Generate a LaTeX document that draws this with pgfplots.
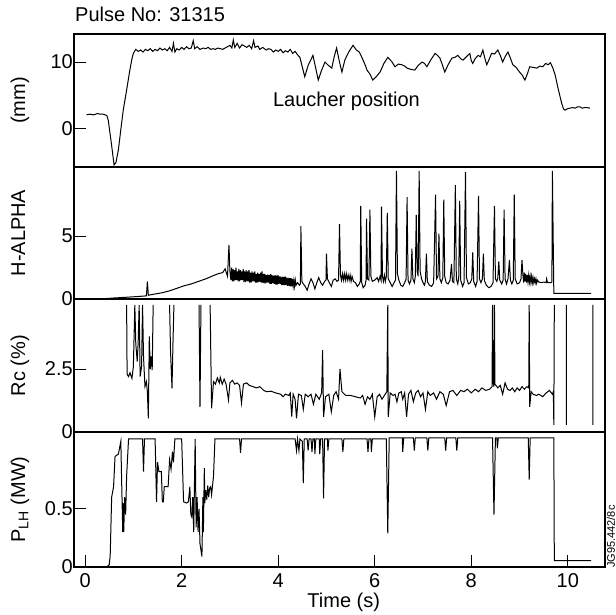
\documentclass[border=0pt]{standalone}
\usepackage{pgfplots}
\pgfplotsset{compat=1.18}
\usepackage{fontspec}
\setmainfont{Liberation Sans}
\begin{document}
\begin{tikzpicture}[x=1pt,y=1pt]
\useasboundingbox (0,0) rectangle (616,-615);
\pgfplotsset{
  panel/.style={
    scale only axis, width=531pt,
    xmin=-0.23, xmax=10.77,
    axis line style={line width=1.1pt},
    tick style={line width=1pt, black},
    tick align=inside, major tick length=12pt,
    ytick pos=left, xtick pos=bottom,
    font=\fontsize{20}{24}\selectfont,
    /pgf/number format/assume math mode=true,
    yticklabel style={inner sep=1pt},
    xticklabel style={yshift=-3pt},
    ylabel style={at={(axis description cs:-0.092,0.5)}, anchor=base, rotate=0},
    cycle list={{black, line width=1pt, mark=none}},
    unbounded coords=jump,
  }
}
% ---------- Panel 1: launcher position ----------
\begin{axis}[panel, at={(74pt,-34pt)}, anchor=north west, height=133pt,
  ymin=-5.7, ymax=14.2, ytick={0,10}, xtick=\empty,
  ylabel={(mm)},
  title={Pulse No: 31315},
  title style={at={(axis description cs:0,1)}, anchor=base west, yshift=6pt, inner sep=0pt, xshift=1pt}]
\addplot[black, line width=1pt, mark=none] coordinates {
(0.03,2.1)(0.10,2.2)(0.18,2.1)(0.25,2.3)(0.32,2.2)(0.38,2.2)(0.45,2.0)(0.48,1.3)
(0.55,-2.5)(0.60,-5.4)(0.64,-5.0)(0.69,-3.1)(0.75,0.5)(0.79,2.8)(0.86,5.8)(0.92,8.5)(0.97,10.5)
(1.00,11.3)(1.05,11.9)(1.10,11.6)(1.15,11.8)(1.20,11.5)(1.25,11.9)(1.30,11.7)(1.35,12.0)
(1.40,11.6)(1.45,11.9)(1.50,11.7)(1.55,12.1)(1.60,11.8)(1.65,12.0)(1.70,11.7)(1.75,12.2)
(1.80,11.6)(1.83,12.8)(1.86,11.5)(1.90,12.0)(1.95,11.8)(2.00,12.2)(2.05,11.9)(2.10,12.3)
(2.15,12.0)(2.20,12.1)(2.24,13.2)(2.27,12.0)(2.32,12.3)(2.38,11.9)(2.45,12.1)(2.50,12.0)
(2.55,12.2)(2.60,11.9)(2.65,12.0)(2.70,11.9)(2.75,12.1)(2.80,12.0)(2.85,11.9)(2.90,12.1)
(2.95,12.3)(3.00,12.5)(3.04,12.1)(3.07,13.3)(3.10,12.2)(3.15,12.8)(3.20,12.1)(3.25,12.6)
(3.30,12.4)(3.35,12.2)(3.40,12.5)(3.45,12.0)(3.49,13.2)(3.52,12.2)(3.58,12.4)(3.62,11.9)
(3.68,12.2)(3.75,11.8)(3.80,12.0)(3.85,11.9)(3.90,11.5)(3.95,11.8)(4.00,11.6)(4.05,11.9)
(4.10,11.4)(4.15,11.7)(4.20,11.5)(4.25,11.9)(4.30,11.3)(4.35,11.6)(4.40,11.1)(4.45,10.7)
(4.55,7.8)(4.62,9.5)(4.72,11.0)(4.78,9.0)(4.83,7.3)(4.90,8.8)(4.97,10.0)(5.04,9.5)
(5.11,9.1)(5.16,10.8)(5.21,12.1)(5.27,10.0)(5.32,8.5)(5.38,10.3)(5.46,11.5)(5.55,12.5)
(5.62,11.8)(5.68,11.5)(5.74,10.6)(5.80,9.6)(5.84,8.8)(5.90,8.2)(5.96,7.3)(6.03,7.8)
(6.11,8.5)(6.19,9.8)(6.27,10.7)(6.35,10.1)(6.42,9.3)(6.49,9.7)(6.56,9.6)(6.62,9.4)
(6.67,9.1)(6.75,8.9)(6.83,8.8)(6.90,9.5)(6.98,10.0)(7.03,9.8)(7.08,9.3)(7.15,10.2)
(7.25,11.3)(7.30,11.0)(7.35,10.6)(7.40,9.6)(7.45,8.5)(7.52,9.6)(7.60,10.6)(7.66,10.7)
(7.72,11.0)(7.78,10.5)(7.83,10.3)(7.90,10.8)(7.97,11.3)(8.00,10.2)(8.03,9.8)(8.08,10.5)
(8.14,11.0)(8.19,10.8)(8.24,11.8)(8.28,10.6)(8.32,9.6)(8.37,10.4)(8.42,11.3)(8.48,11.2)
(8.55,11.8)(8.60,11.0)(8.65,10.0)(8.70,10.8)(8.76,11.5)(8.81,10.6)(8.86,9.6)(8.93,9.2)
(9.00,8.5)(9.06,8.0)(9.11,7.3)(9.16,8.2)(9.21,9.3)(9.28,9.2)(9.36,9.1)(9.42,9.4)
(9.48,9.3)(9.54,9.8)(9.59,9.6)(9.64,9.9)(9.69,9.1)(9.74,8.0)(9.79,6.3)(9.84,4.8)
(9.87,3.9)(9.91,3.0)(9.94,2.8)(9.99,3.0)(10.04,3.1)(10.10,3.2)(10.15,3.1)(10.20,3.3)
(10.25,3.3)(10.30,3.1)(10.35,3.2)(10.40,3.2)(10.46,3.1)
};
\node[anchor=base west, inner sep=0pt] at (axis cs:3.89,3.36) {Laucher position};
\end{axis}
% ---------- Panel 2: H-alpha ----------
\begin{axis}[panel, at={(74pt,-167pt)}, anchor=north west, height=132pt,
  ymin=0, ymax=10.5, ytick={0,5}, xtick=\empty,
  ylabel={H-ALPHA}]
\addplot[black, line width=1pt, mark=none] coordinates {
(0.38,0.02)(0.6,0.08)(0.9,0.15)(1.1,0.2)(1.27,0.25)(1.29,1.4)(1.31,0.3)(1.45,0.4)
(1.6,0.5)(1.75,0.65)(1.9,0.85)(2.05,1.05)(2.2,1.2)(2.35,1.4)(2.5,1.6)(2.65,1.85)
(2.75,2.0)(2.85,2.1)(2.9,2.4)(2.95,1.8)(2.98,4.3)(3.0,2.2)
(3.02,1.5)(3.035,2.5)(3.05,1.4)(3.065,2.4)(3.08,1.4)(3.095,2.3)(3.11,1.5)(3.125,2.5)(3.14,1.5)(3.155,2.2)(3.17,1.4)(3.185,2.4)(3.20,1.4)(3.215,2.3)(3.23,1.5)
(3.245,2.2)(3.26,1.5)(3.275,2.4)(3.29,1.35)(3.305,2.2)(3.32,1.35)(3.335,2.3)(3.35,1.4)(3.365,2.2)(3.38,1.4)(3.395,2.3)(3.41,1.3)(3.425,2.1)(3.44,1.3)(3.455,2.2)(3.47,1.4)
(3.485,2.1)(3.50,1.4)(3.515,2.2)(3.53,1.3)(3.545,2.0)(3.56,1.3)(3.575,2.1)(3.59,1.35)(3.605,2.0)(3.62,1.35)(3.635,2.1)(3.65,1.3)(3.665,2.2)(3.68,1.3)(3.695,2.0)(3.71,1.25)
(3.725,2.0)(3.74,1.25)(3.755,1.9)(3.77,1.3)(3.785,1.95)(3.80,1.3)(3.815,1.9)(3.83,1.2)(3.845,2.0)(3.86,1.2)(3.875,1.9)(3.89,1.25)(3.905,1.85)(3.92,1.2)(3.935,1.9)(3.95,1.15)
(3.965,1.85)(3.98,1.15)(3.995,1.9)(4.01,1.2)(4.025,1.8)(4.04,1.2)(4.055,1.8)(4.07,1.1)(4.085,1.75)(4.10,1.1)(4.115,1.75)(4.13,1.1)(4.145,1.8)(4.16,1.1)(4.175,1.7)(4.19,1.05)
(4.205,1.7)(4.22,1.05)(4.235,1.65)(4.25,1.0)(4.265,1.65)(4.28,1.0)(4.295,1.6)(4.31,1.0)(4.325,1.5)(4.34,1.0)(4.355,1.5)(4.37,1.1)(4.40,1.3)(4.44,1.1)
(4.46,1.2)(4.47,5.8)(4.49,1.4)(4.52,1.2)(4.56,1.0)(4.60,0.7)(4.64,1.2)(4.68,1.6)
(4.72,1.3)(4.76,0.8)(4.80,1.3)(4.84,1.7)(4.88,1.3)(4.92,1.1)(4.96,1.4)(4.99,1.5)
(5.00,3.6)(5.02,1.6)(5.06,1.3)(5.10,1.0)(5.14,1.5)(5.18,1.6)(5.22,1.4)(5.25,1.5)
(5.27,5.95)(5.29,1.9)(5.31,1.5)(5.33,2.0)(5.35,1.5)(5.37,2.0)(5.39,1.5)(5.41,2.0)(5.43,1.5)(5.45,1.9)(5.47,1.5)(5.49,1.9)
(5.51,1.4)(5.53,1.8)(5.56,1.4)(5.60,1.3)(5.64,1.0)(5.68,1.2)(5.70,1.4)(5.71,7.4)
(5.73,1.3)(5.76,0.9)(5.80,1.1)(5.82,1.5)(5.83,6.4)(5.85,1.6)(5.88,1.5)(5.90,7.1)
(5.92,1.8)(5.95,1.4)(6.00,1.5)(6.05,1.7)(6.08,1.4)(6.11,1.8)(6.13,1.5)(6.14,7.35)
(6.16,1.8)(6.18,1.4)(6.20,1.9)(6.22,1.4)(6.24,1.8)(6.26,6.85)(6.28,1.6)(6.32,1.3)(6.36,1.0)
(6.40,1.3)(6.43,1.5)(6.45,10.2)(6.47,2.0)(6.50,1.5)(6.54,1.1)(6.58,1.0)(6.62,1.3)
(6.65,1.6)(6.67,8.1)(6.69,1.5)(6.72,1.2)(6.75,1.5)(6.77,4.0)(6.79,1.6)(6.82,1.3)
(6.84,1.8)(6.86,6.7)(6.88,2.2)(6.90,1.8)(6.92,10.2)(6.94,2.2)(6.97,1.6)(7.00,1.3)
(7.03,1.1)(7.05,1.4)(7.07,3.6)(7.09,1.4)(7.13,1.1)(7.18,1.0)(7.22,1.3)(7.26,8.3)
(7.28,1.6)(7.31,1.8)(7.33,5.2)(7.35,1.6)(7.38,1.3)(7.41,1.7)(7.43,7.9)(7.45,1.8)
(7.48,1.3)(7.52,1.2)(7.56,1.5)(7.59,2.8)(7.61,1.4)(7.64,1.3)(7.67,9.05)(7.69,1.6)
(7.72,1.2)(7.74,1.7)(7.76,7.8)(7.78,1.5)(7.82,1.0)(7.85,1.3)(7.88,10.1)(7.90,1.7)
(7.94,1.2)(7.98,1.3)(8.01,1.6)(8.03,3.7)(8.05,1.4)(8.09,1.0)(8.12,1.4)(8.15,8.2)
(8.17,1.6)(8.20,1.3)(8.23,1.6)(8.25,3.6)(8.27,1.5)(8.31,1.1)(8.36,0.9)(8.41,1.0)
(8.45,1.3)(8.48,7.4)(8.50,1.6)(8.53,1.4)(8.55,1.7)(8.57,3.0)(8.59,1.5)(8.63,1.2)
(8.66,1.5)(8.68,7.1)(8.70,1.6)(8.73,1.2)(8.76,1.6)(8.79,3.1)(8.81,1.5)(8.84,1.2)
(8.87,1.5)(8.89,8.3)(8.91,1.6)(8.95,1.2)(9.00,1.3)(9.03,1.6)(9.05,3.1)(9.07,1.9)
(9.085,1.3)(9.10,2.1)(9.115,1.4)(9.13,2.0)(9.145,1.3)(9.16,1.9)(9.175,1.35)(9.19,1.9)(9.205,1.35)(9.22,1.8)(9.235,1.3)(9.25,1.8)
(9.265,1.3)(9.28,1.7)(9.295,1.3)(9.31,1.6)(9.325,1.3)(9.34,1.6)(9.355,1.25)(9.37,1.5)(9.40,1.35)(9.45,1.3)(9.50,1.35)
(9.55,1.3)(9.56,1.6)(9.58,1.3)(9.65,1.3)(9.67,1.35)(9.68,10.2)(9.71,0.45)(10.48,0.45)
};
\end{axis}
% ---------- Panel 3: Rc ----------
\begin{axis}[panel, at={(74pt,-299pt)}, anchor=north west, height=133pt,
  ymin=0, ymax=5.28, ytick={0,2.5}, xtick=\empty,
  ylabel={Rc (\%)}]
\addplot[black, line width=1pt, mark=none] coordinates {
(0.86,5.05)(0.87,2.3)(0.90,2.2)(0.93,2.35)(0.97,2.13)(1.00,2.6)(1.03,5.05)(1.05,3.5)
(1.08,2.8)(1.10,3.6)(1.12,5.05)(1.14,2.2)(1.17,2.6)(1.19,5.05)(1.21,3.0)(1.24,1.8)
(1.27,2.0)(1.29,1.6)(1.31,0.54)(1.33,3.8)(1.35,2.5)(1.37,3.0)(1.39,2.46)(1.41,5.05)
(1.42,nan)
(1.75,5.05)(1.77,3.2)(1.80,1.73)(1.82,3.5)(1.84,5.05)(1.85,nan)
(2.36,5.05)(2.38,1.0)(2.40,5.05)(2.41,nan)
(2.59,5.05)(2.62,0.94)(2.66,2.0)(2.70,1.9)(2.74,2.15)(2.78,1.95)(2.80,2.17)(2.84,1.9)
(2.88,2.1)(2.92,1.9)(2.97,1.27)(3.00,1.95)(3.05,2.05)(3.10,1.9)(3.15,1.95)(3.20,1.85)
(3.24,1.15)(3.28,1.9)(3.35,1.95)(3.40,1.85)(3.48,1.8)(3.55,1.75)(3.62,1.8)(3.70,1.65)
(3.76,1.6)(3.85,1.62)(3.95,1.55)(4.05,1.5)(4.10,1.4)(4.15,1.5)(4.22,1.45)(4.25,1.55)
(4.28,0.61)(4.31,1.5)(4.35,1.3)(4.38,0.54)(4.42,1.5)(4.48,1.45)(4.52,0.9)(4.56,1.5)
(4.62,1.4)(4.68,1.5)(4.73,1.1)(4.78,1.5)(4.85,1.3)(4.90,1.55)(4.92,3.25)(4.94,0.6)
(4.98,1.4)(5.05,1.5)(5.10,0.8)(5.15,1.45)(5.20,1.6)(5.25,1.3)(5.28,2.5)(5.32,1.6)
(5.40,1.45)(5.50,1.45)(5.60,1.4)(5.70,1.35)(5.75,1.45)(5.80,1.1)(5.85,1.4)(5.90,1.3)
(5.95,1.5)(6.00,0.6)(6.05,1.4)(6.10,1.5)(6.15,1.3)(6.20,1.45)(6.25,1.6)(6.27,5.05)
(6.28,0.6)(6.32,1.55)(6.38,1.45)(6.42,1.5)(6.46,1.2)(6.50,1.55)(6.55,1.6)(6.58,1.3)
(6.62,1.55)(6.66,0.6)(6.70,1.5)(6.75,1.65)(6.80,1.2)(6.85,1.55)(6.90,1.65)(6.95,1.4)
(7.00,1.55)(7.05,0.9)(7.10,1.6)(7.15,1.45)(7.22,1.55)(7.28,1.3)(7.35,1.6)(7.42,1.5)
(7.48,1.05)(7.55,1.6)(7.62,1.65)(7.70,1.45)(7.78,1.65)(7.85,1.6)(7.92,1.7)(8.00,1.55)
(8.08,1.7)(8.15,1.6)(8.22,1.75)(8.30,1.65)(8.38,1.7)(8.43,1.8)(8.44,5.05)(8.45,2.0)
(8.47,1.8)(8.48,5.05)(8.49,1.9)(8.55,1.75)(8.60,1.85)(8.65,1.5)(8.70,1.95)(8.75,1.7)
(8.80,1.65)(8.85,1.75)(8.90,1.6)(8.95,1.75)(9.00,1.65)(9.05,1.8)(9.10,1.7)(9.15,1.8)
(9.19,1.75)(9.20,5.05)(9.21,1.0)(9.24,1.6)(9.28,1.5)(9.35,1.45)(9.40,1.5)(9.48,1.4)
(9.55,1.55)(9.62,1.65)(9.68,1.5)(9.70,1.6)(9.71,0.28)(9.72,5.05)(9.73,nan)
(9.97,5.05)(9.97,0.28)(9.98,nan)
(10.52,5.05)(10.52,0.28)
};
\end{axis}
% ---------- Panel 4: P_LH ----------
\begin{axis}[panel, at={(74pt,-432pt)}, anchor=north west, height=135pt,
  ymin=0, ymax=1.16, ytick={0,0.5}, xtick={0,2,4,6,8,10},
  ylabel={P\textsubscript{LH} (MW)},
  xlabel={Time (s)},
  xlabel style={at={(axis description cs:0.508,0)}, anchor=base, yshift=-40pt}]
\addplot[black, line width=1pt, mark=none] coordinates {
(0.03,0.0)(0.45,0.0)(0.50,0.02)(0.52,0.1)(0.55,0.6)(0.59,0.69)(0.62,0.95)(0.69,0.97)
(0.74,1.08)(0.76,0.68)(0.78,0.30)(0.79,0.55)(0.80,0.3)(0.82,0.6)(0.84,0.45)(0.86,0.78)
(0.90,1.1)(1.19,1.1)(1.21,0.82)(1.23,1.1)(1.45,1.1)(1.48,0.56)(1.50,0.9)(1.53,0.82)
(1.58,0.82)(1.60,0.56)(1.62,0.56)(1.64,0.69)(1.72,0.69)(1.75,0.92)(1.78,0.84)(1.81,0.99)
(1.83,0.9)(1.86,1.1)(2.00,1.1)(2.04,0.56)(2.10,0.55)(2.14,0.56)(2.17,0.69)(2.19,0.45)
(2.21,0.43)(2.23,0.6)(2.25,0.3)(2.28,1.1)(2.30,0.34)(2.32,0.6)(2.34,0.3)(2.36,0.5)
(2.38,0.2)(2.42,0.09)(2.44,0.6)(2.45,0.3)(2.47,0.85)(2.48,0.55)(2.50,0.66)(2.52,0.58)
(2.54,0.7)(2.56,0.6)(2.58,0.68)(2.60,0.69)(2.62,0.62)(2.66,0.78)(2.69,1.1)
(3.20,1.1)(3.22,0.98)(3.24,1.1)
(4.35,1.1)(4.38,1.0)(4.40,1.1)(4.43,1.0)(4.45,1.1)(4.50,1.08)(4.52,0.72)(4.54,1.1)
(4.60,1.1)(4.62,1.0)(4.64,1.1)(4.68,1.1)(4.70,0.99)(4.72,1.1)
(4.75,1.1)(4.76,0.97)(4.78,1.1)(4.85,1.1)(4.86,0.97)(4.88,1.1)
(4.92,1.1)(4.94,0.59)(4.96,1.1)(5.02,1.1)(5.03,1.0)(5.05,1.1)
(5.32,1.1)(5.34,0.99)(5.36,1.1)
(5.84,1.1)(5.86,0.99)(5.88,1.1)(5.92,1.1)(5.93,0.99)(5.95,1.1)
(6.24,1.1)(6.27,0.29)(6.30,1.11)
(6.57,1.11)(6.58,0.99)(6.60,1.11)(6.80,1.11)(6.82,1.0)(6.84,1.11)
(7.08,1.11)(7.10,1.0)(7.12,1.11)(7.45,1.11)(7.47,1.0)(7.49,1.11)
(7.68,1.11)(7.70,1.0)(7.72,1.11)
(8.44,1.11)(8.47,0.45)(8.50,1.11)(8.53,1.11)(8.54,1.02)(8.56,1.11)
(9.18,1.11)(9.20,0.75)(9.22,1.11)
(9.71,1.11)(9.72,0.055)(10.48,0.055)
};
\end{axis}
\node[rotate=90, anchor=west, inner sep=0pt, font=\fontsize{11}{12}\selectfont] at (611,-568) {JG95.442/8c};
\end{tikzpicture}
\end{document}
